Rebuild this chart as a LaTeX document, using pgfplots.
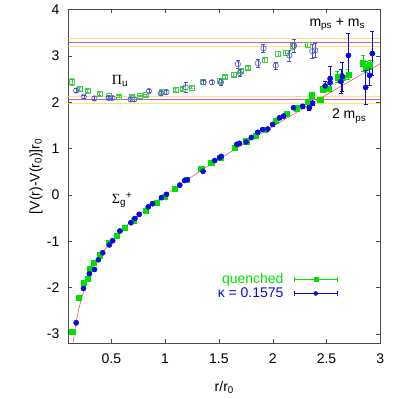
\documentclass[border=0pt]{standalone}
\usepackage{fontspec}
\setmainfont{Liberation Sans}
\setsansfont{Liberation Sans}
\newfontfamily\symb{Liberation Serif}
\usepackage{pgfplots}
\usepackage{pgfplotstable}
\pgfplotsset{compat=1.18}
\usetikzlibrary{arrows.meta,calc}

\definecolor{qgreen}{RGB}{0,225,0}
\definecolor{kblue}{RGB}{10,10,225}
\definecolor{pgreen}{RGB}{70,205,70}
\definecolor{pblue}{RGB}{80,80,215}
\definecolor{fitred}{RGB}{235,70,70}
\definecolor{lmag}{RGB}{205,80,215}
\definecolor{lyel}{RGB}{250,228,120}

% Pi_u, quenched (open squares)
\pgfplotstableread{
x y e
0.133 2.44 0.07
0.204 2.29 0.03
0.278 2.25 0.03
0.389 2.18 0.03
0.472 2.14 0.02
0.574 2.12 0.02
0.688 2.12 0.02
0.765 2.14 0.02
0.821 2.15 0.02
0.966 2.23 0.03
1.096 2.26 0.03
1.160 2.29 0.03
1.244 2.32 0.03
1.352 2.43 0.04
1.506 2.47 0.04
1.556 2.55 0.04
1.636 2.60 0.04
1.701 2.68 0.04
1.772 2.74 0.04
1.923 2.91 0.04
2.049 3.04 0.05
2.117 3.07 0.05
2.185 3.21 0.06
2.324 3.24 0.05
}\piq

% Pi_u, kappa = 0.1575 (open circles)
\pgfplotstableread{
x y e
0.173 2.25 0.04
0.244 2.12 0.03
0.343 2.08 0.04
0.475 2.09 0.03
0.509 2.09 0.03
0.679 2.06 0.04
0.713 2.06 0.04
0.849 2.24 0.03
0.960 2.19 0.04
1.012 2.22 0.04
1.191 2.32 0.10
1.358 2.43 0.05
1.435 2.43 0.05
1.519 2.43 0.06
1.676 2.82 0.08
1.694 2.63 0.08
1.861 2.84 0.08
1.914 3.16 0.08
2.028 2.79 0.07
2.154 3.01 0.12
2.198 3.22 0.14
2.367 3.10 0.16
2.395 3.12 0.15
}\pik

% Sigma_g+, quenched
\pgfplotstableread{
x y e
0.136 -2.96 0.02
0.198 -2.22 0.02
0.241 -1.90 0.02
0.278 -1.81 0.02
0.302 -1.60 0.02
0.336 -1.47 0.02
0.389 -1.30 0.02
0.475 -1.03 0.02
0.549 -0.88 0.02
0.627 -0.71 0.02
0.710 -0.55 0.02
0.821 -0.34 0.02
0.923 -0.17 0.02
0.997 -0.04 0.02
1.090 0.14 0.02
1.198 0.32 0.02
1.336 0.56 0.02
1.429 0.69 0.02
1.512 0.81 0.02
1.645 1.01 0.02
1.753 1.16 0.02
1.840 1.28 0.02
1.923 1.40 0.02
2.025 1.60 0.03
2.130 1.75 0.03
2.225 1.87 0.03
2.324 2.01 0.04
2.364 2.15 0.06
2.441 2.05 0.03
2.463 2.28 0.05
2.515 2.29 0.06
2.602 2.54 0.12
2.648 2.53 0.10
2.704 2.60 0.10
2.840 2.84 0.18
2.864 2.77 0.12
2.904 2.81 0.10
}\sigq

% Sigma_g+, kappa = 0.1575
\pgfplotstableread{
x y e
0.173 -2.76 0.02
0.241 -2.02 0.02
0.296 -1.70 0.02
0.343 -1.61 0.02
0.380 -1.40 0.02
0.420 -1.25 0.02
0.481 -1.08 0.02
0.512 -0.99 0.02
0.580 -0.78 0.02
0.682 -0.60 0.02
0.719 -0.51 0.02
0.759 -0.42 0.02
0.843 -0.26 0.02
0.883 -0.19 0.02
0.966 -0.06 0.02
1.012 0.01 0.02
1.136 0.21 0.02
1.182 0.31 0.02
1.207 0.33 0.02
1.352 0.51 0.02
1.460 0.74 0.02
1.506 0.80 0.02
1.522 0.83 0.02
1.667 1.09 0.03
1.691 1.11 0.03
1.753 1.14 0.03
1.802 1.24 0.03
1.861 1.35 0.03
1.907 1.41 0.03
1.954 1.42 0.03
2.000 1.52 0.03
2.062 1.66 0.03
2.102 1.70 0.03
2.194 1.88 0.04
2.278 1.91 0.04
2.340 1.88 0.05
2.370 1.98 0.05
2.488 2.35 0.10
2.534 2.51 0.27
2.534 2.42 0.12
2.633 2.45 0.25
2.648 2.55 0.32
2.704 3.01 0.47
2.864 2.32 0.37
2.901 2.58 0.22
2.926 3.05 0.47
}\sigk

\begin{document}
\fontsize{14}{16}\selectfont
\begin{tikzpicture}
\begin{axis}[
    scale only axis,
    width=312pt, height=333.7pt,
    xmin=0.1, xmax=3, ymin=-3.2, ymax=4,
    xtick={0.5,1,1.5,2,2.5,3},
    ytick={-3,-2,-1,0,1,2,3,4},
    /pgf/number format/assume math mode=true,
    tick label style={font=\fontsize{14}{16}\selectfont},
    xticklabel style={yshift=-6pt},
    yticklabel style={xshift=-4pt},
    label style={font=\fontsize{14}{16}\selectfont},
    xlabel={r/r\textsubscript{0}},
    ylabel={[V(r)-V(r\textsubscript{0})]r\textsubscript{0}},
    xlabel style={yshift=-8pt},
    ylabel style={yshift=-5pt},
    axis line style={black!70},
    major tick length=4pt,
    tick style={black!70},
    legend plot pos=right,
    legend cell align=right,
    legend style={draw=none, fill=none, at={(rel axis cs:0.865,0.216)}, anchor=north east,
        font=\fontsize{14}{16}\selectfont, row sep=-2pt, inner sep=0pt},
    error bars/error bar style={line width=0.5pt},
    error bars/error mark options={rotate=90, mark size=2pt, line width=0.5pt},
]
% legend entries first
\addplot[qgreen, only marks, mark=square*, mark size=2.6pt,
    legend image code/.code={
        \path (0pt,0pt);
        \draw[{Bar[width=5pt]}-{Bar[width=5pt]}, line width=0.5pt] (8pt,0pt) -- (52pt,0pt);
        \draw[only marks, mark size=2pt] plot coordinates {(30pt,0pt)};},
    error bars/.cd, y dir=both, y explicit]
    table[x=x, y=y, y error=e] {\sigq};
\addlegendentry{\textcolor{qgreen}{quenched}}
\addplot[kblue, only marks, mark=*, mark size=2.5pt,
    legend image code/.code={
        \path (0pt,0pt);
        \draw[{Bar[width=5pt]}-{Bar[width=5pt]}, line width=0.5pt] (8pt,0pt) -- (52pt,0pt);
        \draw[only marks, mark size=2pt] plot coordinates {(30pt,0pt)};},
    error bars/.cd, y dir=both, y explicit]
    table[x=x, y=y, y error=e] {\sigk};
\addlegendentry{\textcolor{kblue}{κ = 0.1575}}

% threshold bands
\addplot[lyel, line width=0.6pt, forget plot] coordinates {(0.1,3.37) (3,3.37)};
\addplot[lyel, line width=0.6pt, forget plot] coordinates {(0.1,3.20) (3,3.20)};
\addplot[lmag, line width=0.9pt, forget plot] coordinates {(0.1,3.29) (3,3.29)};
\addplot[lyel, line width=0.6pt, forget plot] coordinates {(0.1,2.13) (3,2.13)};
\addplot[lyel, line width=0.6pt, forget plot] coordinates {(0.1,1.97) (3,1.97)};
\addplot[lmag, line width=0.9pt, forget plot] coordinates {(0.1,2.05) (3,2.05)};

% fit
\addplot[fitred, line width=0.5pt, smooth, forget plot] coordinates {
    (0.144,-3.193) (0.16,-2.930) (0.18,-2.660) (0.2,-2.44) (0.25,-2.025)
    (0.3,-1.727) (0.35,-1.495) (0.4,-1.305) (0.5,-1.0) (0.6,-0.753)
    (0.7,-0.54) (0.8,-0.348) (1.0,0) (1.25,0.395) (1.5,0.767)
    (1.75,1.125) (2.0,1.475) (2.5,2.16) (3.0,2.833)};

% Pi_u
\addplot[pgreen, only marks, mark=square, mark size=2.5pt, line width=0.6pt, forget plot,
    error bars/.cd, y dir=both, y explicit]
    table[x=x, y=y, y error=e] {\piq};
\addplot[pblue, only marks, mark=o, mark size=2.7pt, line width=0.6pt, forget plot,
    error bars/.cd, y dir=both, y explicit]
    table[x=x, y=y, y error=e] {\pik};

% Sigma_g+ again on top
\addplot[qgreen, only marks, mark=square*, mark size=2.6pt, forget plot,
    error bars/.cd, y dir=both, y explicit]
    table[x=x, y=y, y error=e] {\sigq};
\addplot[kblue, only marks, mark=*, mark size=2.5pt, forget plot,
    error bars/.cd, y dir=both, y explicit]
    table[x=x, y=y, y error=e] {\sigk};

\node[anchor=center] at (axis cs:0.58,2.45) {{\symb Π}\textsubscript{u}};
\node[anchor=center] at (axis cs:0.60,-0.12) {{\symb Σ}\textsubscript{g}\textsuperscript{+}};
\node[anchor=center] at (axis cs:2.60,3.67) {m\textsubscript{ps} + m\textsubscript{s}};
\node[anchor=center] at (axis cs:2.71,1.70) {2 m\textsubscript{ps}};
\end{axis}
\path ($(current axis.south west)+(-68.3pt,-51pt)$) rectangle ($(current axis.north east)+(34.7pt,8.3pt)$);
\end{tikzpicture}
\end{document}
